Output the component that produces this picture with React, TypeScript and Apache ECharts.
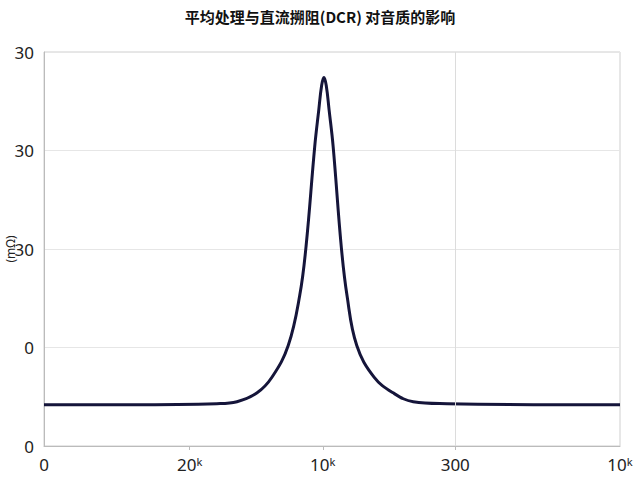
import { useEffect, useRef, type ReactElement } from "react";
import * as echarts from "echarts";

const title = "平均处理与直流搠阻(DCR) 对音质的影响";
const yAxisName = "(mΩ)";

// y ticks at 0, 10, 20, 30, 40 (labels as printed)
const yTickValues = [0, 10, 20, 30, 40];
const yTickLabels = ["0", "0", "30", "30", "30"];

// x ticks (uneven spacing in the original)
const xTickValues = [0, 25.3, 48.4, 71.4, 100];
const xTickLabels = ["0", "20ᵏ", "10ᵏ", "300", "10ᵏ"];
const xGridLine = 71.4;

// curve samples
const curveX = [0, 15, 30, 33.5, 37, 39.6, 42.4, 44.4, 45.5, 47, 47.7, 48.2, 48.6, 49.0, 49.5, 50.2, 51.6, 52.6, 54.3, 57.3, 60.6, 64.1, 70, 85, 100];
const curveY = [4.2, 4.2, 4.3, 4.5, 5.4, 7.0, 10.2, 15.3, 20.3, 30.4, 34.1, 36.6, 37.4, 36.6, 34.1, 30.4, 20.3, 15.3, 10.2, 7.0, 5.4, 4.5, 4.3, 4.2, 4.2];

export default function App(): ReactElement {
  const rootRef = useRef<HTMLDivElement>(null);

  useEffect(() => {
    if (!rootRef.current) return;
    const chart = echarts.init(rootRef.current, undefined, { renderer: "svg" });

    chart.setOption({
      animation: false,
      title: {
        text: title,
        left: "center",
        top: 4,
        textStyle: {
          fontFamily: "Noto Sans CJK SC",
          fontSize: 15,
          fontWeight: "bold",
          color: "#111",
        },
      },
      grid: {
        left: 44,
        right: 20,
        top: 52,
        bottom: 34,
        outerBoundsMode: "none",
        containLabel: false,
        show: true,
        borderColor: "#cfcfcf",
        borderWidth: 1,
      },
      xAxis: {
        type: "value",
        min: 0,
        max: 100,
        axisLine: { show: true, lineStyle: { color: "#bbb" } },
        axisTick: {
          show: true,
          customValues: xTickValues.slice(1, 4),
          length: 4,
          lineStyle: { color: "#bbb" },
        },
        splitLine: { show: false },
        axisLabel: {
          customValues: xTickValues,
          margin: 10,
          fontSize: 17,
          color: "#222",
          fontFamily: "Noto Sans",
          formatter: (v: number) => {
            const i = xTickValues.findIndex((t) => Math.abs(t - v) < 0.01);
            return i >= 0 ? xTickLabels[i] : "";
          },
        },
      },
      yAxis: {
        type: "value",
        min: 0,
        max: 40,
        interval: 10,
        name: yAxisName,
        nameLocation: "middle",
        nameGap: 28,
        nameMoveOverlap: false,
        nameTextStyle: { fontSize: 12, color: "#222", fontFamily: "Noto Sans" },
        axisLine: { show: true, lineStyle: { color: "#bbb" } },
        axisTick: { show: false },
        splitLine: { show: true, lineStyle: { color: "#e6e6e6" } },
        axisLabel: {
          margin: 10,
          fontSize: 17,
          color: "#222",
          fontFamily: "Noto Sans",
          formatter: (v: number) => {
            const i = yTickValues.indexOf(v);
            return i >= 0 ? yTickLabels[i] : "";
          },
        },
      },
      series: [
        {
          type: "line",
          data: curveX.map((x, i) => [x, curveY[i]]),
          smooth: 0.4,
          showSymbol: false,
          lineStyle: { width: 3, color: "#15153a" },
          markLine: {
            silent: true,
            symbol: "none",
            label: { show: false },
            lineStyle: { color: "#dcdcdc", type: "solid", width: 1 },
            data: [{ xAxis: xGridLine }],
          },
        },
      ],
    });

    return () => {
      chart.dispose();
    };
  }, []);

  return (
    <div
      ref={rootRef}
      style={{ position: "fixed", left: 0, top: 0, width: 640, height: 480, background: "#fff" }}
    />
  );
}
